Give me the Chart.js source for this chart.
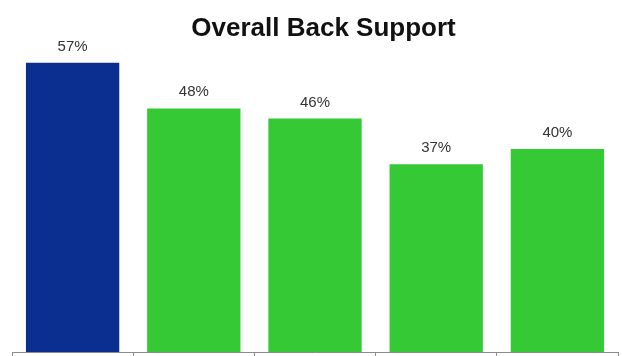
<!DOCTYPE html>
<html>
<head>
<meta charset="utf-8">
<title>Overall Back Support</title>
<script src="https://cdn.jsdelivr.net/npm/chart.js@4.4.1/dist/chart.umd.min.js"></script>
<style>
  html, body { margin: 0; padding: 0; background: #fff; }
  #wrap { width: 622px; height: 356px; }
</style>
</head>
<body>
<div id="wrap"><canvas id="backChart" width="622" height="356"></canvas></div>
<script>
/* dados do gráfico */
const chartTitle = 'Overall Back Support';
const categories = ['Overall', 'Group 1', 'Group 2', 'Group 3', 'Group 4'];
const supportValues = [57, 48, 46, 37, 40];
const barColors = ['#0a2f91', '#36c936', '#36c936', '#36c936', '#36c936'];
const yMax = 60;

/* -----------------------
   plugin: título + rótulos de valor acima das barras
   ----------------------- */
const labelsPlugin = {
  id: 'valueLabels',
  afterDatasetsDraw(chart){
    const ctx = chart.ctx;
    const meta = chart.getDatasetMeta(0);
    ctx.save();
    ctx.textAlign = 'center';
    ctx.textBaseline = 'alphabetic';
    ctx.fillStyle = '#333333';
    ctx.font = '15px "Liberation Sans", Arial, sans-serif';
    meta.data.forEach((bar, i) => {
      ctx.fillText(supportValues[i] + '%', bar.x, bar.y - 12);
    });
    ctx.fillStyle = '#111111';
    ctx.font = 'bold 26px "Liberation Sans", Arial, sans-serif';
    ctx.fillText(chartTitle, 323.5, 36);
    ctx.restore();
  }
};

const ctx = document.getElementById('backChart').getContext('2d');
const chart = new Chart(ctx, {
  type: 'bar',
  data: {
    labels: categories,
    datasets: [{
      data: supportValues,
      backgroundColor: barColors,
      borderWidth: 0,
      barPercentage: 0.77,
      categoryPercentage: 1
    }]
  },
  options: {
    responsive: false,
    animation: false,
    layout: { padding: { top: 47.5, left: 12, right: 4, bottom: 0 } },
    plugins: {
      legend: { display: false },
      tooltip: { enabled: false },
      title: { display: false }
    },
    scales: {
      x: {
        grid: {
          offset: true,
          drawOnChartArea: false,
          tickLength: 4,
          color: '#8c8c8c'
        },
        border: { display: true, color: '#8c8c8c', width: 1 },
        ticks: { display: false }
      },
      y: {
        display: false,
        min: 0,
        max: yMax
      }
    }
  },
  plugins: [labelsPlugin]
});
</script>
</body>
</html>
